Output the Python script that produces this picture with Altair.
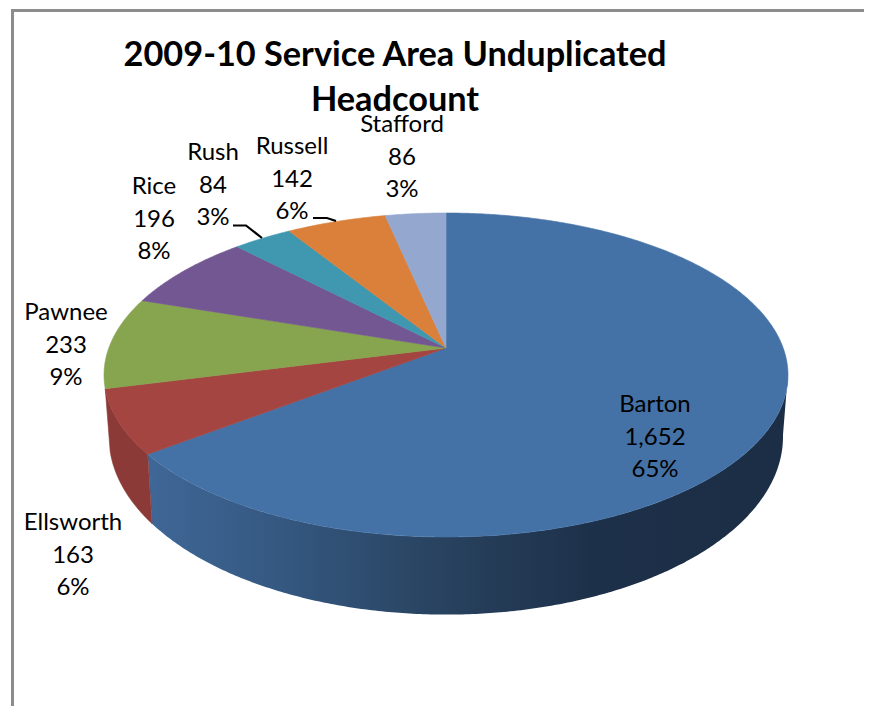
import numpy as np
import pandas as pd
import altair as alt

# ---- data ----
counties = ["Barton", "Ellsworth", "Pawnee", "Rice", "Rush", "Russell", "Stafford"]
headcount = [1652, 163, 233, 196, 84, 142, 86]
top_colors = ["#4472A6", "#A54542", "#87A44F", "#735792", "#3F98AF", "#DA803A", "#94A8CF"]
title_lines = ["2009-10 Service Area Unduplicated", "Headcount"]

# label anchors (page pixels)
label_x = [655, 73, 66, 154, 213, 292, 402]
label_y = [405, 523, 313, 187, 153, 147, 125]
line_gap = 32.5

leader_x = [233, 246, 262, 313, 327, 336]
leader_y = [225.5, 225.5, 238, 218, 218, 221]
leader_id = [0, 0, 0, 1, 1, 1]

frame_x = [12.5, 12.5, 864]
frame_y = [706, 10.5, 10.5]

# tilted-disc geometry
CX, K = 446, 1 / 6
TOP = dict(y0=348, a=337.2, b=157.5)
BOT = dict(y0=407, a=332.3, b=173.0)

x_scale = alt.Scale(domain=[8, 864], range=[0, 856], nice=False, zero=False)
y_scale = alt.Scale(domain=[8, 706], range=[0, 698], nice=False, zero=False)
X = alt.X("x:Q", scale=x_scale, axis=None)
Y = alt.Y("y:Q", scale=y_scale, axis=None)


def rim(deg, g):
    t = np.radians(deg)
    w = 1 + K * np.cos(t)
    return CX + g["a"] * np.sin(t) / w, g["y0"] - g["b"] * np.cos(t) / w


def poly(xs, ys):
    xs, ys = list(xs) + [xs[0]], list(ys) + [ys[0]]
    return pd.DataFrame({"x": xs, "y": ys, "i": range(len(xs))})


def wedge(a0, a1):
    deg = np.linspace(a0, a1, max(int(a1 - a0) * 2, 3))
    xs, ys = rim(deg, TOP)
    return poly([CX] + list(xs), [TOP["y0"]] + list(ys))


def wall(a0, a1):
    deg = np.linspace(a0, a1, max(int(a1 - a0) * 2, 3))
    xt, yt = rim(deg, TOP)
    xb, yb = rim(deg[::-1], BOT)
    return poly(list(xt) + list(xb), list(yt) + list(yb))


def shape(df, fill):
    return alt.Chart(df).mark_line(fill=fill, stroke=fill, strokeWidth=0.6).encode(x=X, y=Y, order="i:Q")


total = sum(headcount)
edges = np.concatenate([[0], np.cumsum(headcount)]) / total * 360

blue_gradient = alt.Gradient(
    gradient="linear", x1=0, x2=1, y1=0, y2=0,
    stops=[
        alt.GradientStop(offset=0, color="#3F6797"),
        alt.GradientStop(offset=0.22, color="#34577F"),
        alt.GradientStop(offset=0.46, color="#28425F"),
        alt.GradientStop(offset=0.70, color="#1D3049"),
        alt.GradientStop(offset=1, color="#1C2E45"),
    ],
)

layers = []
frame_df = pd.DataFrame({"x": frame_x, "y": frame_y, "i": range(3)})
layers.append(alt.Chart(frame_df).mark_line(color="#8C8C8C", strokeWidth=3).encode(x=X, y=Y, order="i:Q"))

# side walls
layers.append(alt.Chart(wall(99, edges[1])).mark_line(fill=blue_gradient, strokeWidth=0, stroke="transparent").encode(x=X, y=Y, order="i:Q"))
layers.append(shape(wall(edges[1], edges[2]), "#8C3A38"))

# top faces
for n in range(len(counties)):
    layers.append(shape(wedge(edges[n], edges[n + 1]), top_colors[n]))

# leader lines
lead_df = pd.DataFrame({"x": leader_x, "y": leader_y, "id": leader_id, "i": range(6)})
layers.append(alt.Chart(lead_df).mark_line(color="#000000", strokeWidth=2.2).encode(x=X, y=Y, detail="id:N", order="i:Q"))

# data labels
rows = []
for n, name in enumerate(counties):
    parts = [name, f"{headcount[n]:,}", f"{round(headcount[n] / total * 100)}%"]
    for j, part in enumerate(parts):
        rows.append({"x": label_x[n], "y": label_y[n] + j * line_gap, "t": part})
layers.append(
    alt.Chart(pd.DataFrame(rows))
    .mark_text(font="Lato", fontSize=24, color="#000000", align="center", baseline="middle")
    .encode(x=X, y=Y, text="t:N")
)

chart = (
    alt.layer(*layers)
    .properties(
        width=856, height=698, padding=0,
        autosize=alt.AutoSizeParams(type="none"),
        title=alt.TitleParams(
            text=title_lines, font="Lato", fontSize=34.3, fontWeight="bold", color="#000000",
            anchor="middle", frame="group", baseline="top", lineHeight=45, dx=-41, offset=-114,
        ),
    )
    .configure_view(stroke=None)
)
chart.save("out.html", embed_options={"renderer": "svg", "actions": False})
